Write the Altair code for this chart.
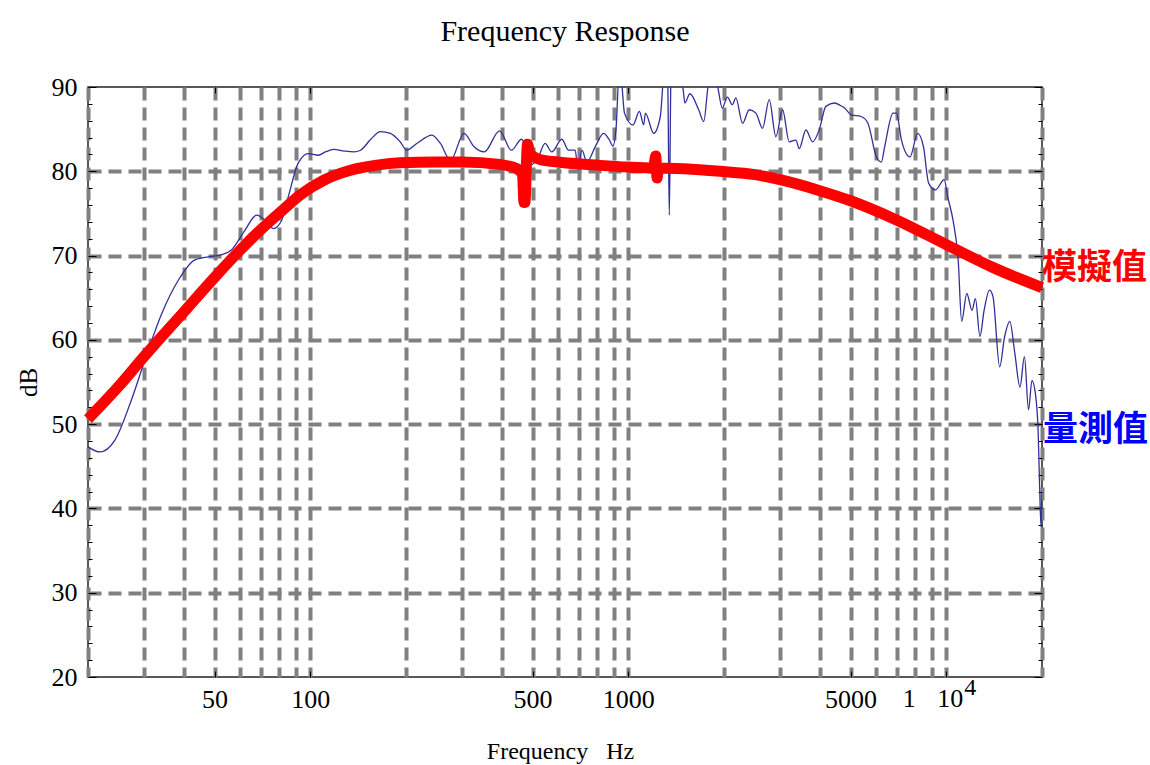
import altair as alt
import pandas as pd

# ---------------- data ----------------
blue_freq = [20, 21.8, 24.3, 27.4, 30.2, 34.1, 38.5, 43.4, 49.0, 52.7, 56.6, 62.3, 67.8, 72.1,
             76.5, 81.3, 85.3, 91.7, 98.6, 106, 111.6, 118.6, 128, 137.1, 143.9, 155, 166,
             178.6, 191.7, 201.2, 216.3, 241.4, 256.6, 276.1, 304.4, 327.5, 352.5, 393.8,
             429, 461.8, 497, 521.6, 547.5, 575, 618, 649, 681, 694, 715, 741, 787, 836,
             870, 895, 915, 936, 950, 973, 1035, 1084, 1118, 1132, 1202, 1261, 1300, 1330,
             1346, 1362, 1400, 1489, 1507, 1562, 1665, 1727, 1791, 1850, 1903, 1975, 2049,
             2126, 2179, 2288, 2401, 2520, 2644, 2775, 2912, 3056, 3207, 3366, 3448, 3619,
             3798, 3985, 4182, 4450, 4650, 4788, 5025, 5400, 5670, 6030, 6250, 6400, 6800,
             6970, 7230, 7690, 8130, 8480, 8800, 9250, 9850, 10100, 10500, 10900, 11180,
             11600, 12050, 12350, 12760, 13150, 13680, 14030, 14720, 15260, 15840, 16430,
             17050, 17610, 18140, 18600, 19070, 19460, 19660, 19860, 20000]
blue_db = [47.3, 46.7, 48.1, 52.9, 57.6, 63.1, 67.1, 69.5, 69.9, 70.1, 70.7, 73.0, 74.8, 74.2,
           73.2, 74.2, 77.0, 81.0, 82.1, 81.9, 82.3, 82.6, 82.4, 82.3, 82.5, 83.8, 84.7,
           84.5, 83.5, 82.5, 83.3, 84.3, 83.3, 81.3, 84.5, 82.9, 82.3, 84.8,
           82.5, 83.8, 80.8, 81.7, 83.3, 82.3, 83.8, 82.5, 82.5, 80.2, 82.5, 81.1, 82.9, 84.5,
           83.8, 83.0, 85.0, 91.5, 91.0, 86.9, 85.5, 87.1, 85.5, 86.9, 84.5, 86.5, 92.0, 91.0,
           74.8, 91.0, 93.0, 89.6, 88.1, 89.2, 87.3, 85.9, 90.5, 91.0, 90.3, 87.5, 88.8,
           87.9, 88.7, 85.7, 87.3, 86.9, 85.1, 88.5, 84.1, 87.3, 83.5, 83.7, 82.7, 84.9,
           83.5, 84.9, 87.7, 88.1, 87.8, 87.5, 86.7, 86.5, 85.7, 81.7, 81.1, 82.9, 86.9,
           86.9, 83.7, 81.7, 84.5, 82.9, 78.6, 77.8, 79.0, 77.0, 74.2, 69.5, 62.2,
           65.5, 63.5, 64.9, 60.4, 63.5, 65.9, 65.1, 56.8, 60.4, 62.2, 58.4,
           54.4, 58.0, 51.7, 55.2, 53.6, 48.9, 42.6, 37.8, 41.8]

red_freq = [20, 25, 30, 40, 50, 60, 70, 83, 93, 111, 133, 160, 191, 250, 300, 395, 447, 465,
            470, 473, 482, 490, 505, 528, 600, 815, 1000, 1200, 1220, 1232, 1245, 1500, 1942,
            2500, 3000, 4000, 5000, 7000, 10000, 14000, 20000]
red_db = [50.6, 54.5, 58.0, 63.3, 67.4, 70.6, 73.1, 75.6, 77.2, 79.0, 80.1, 80.7, 81.0, 81.1,
          81.1, 80.8, 80.3, 79.6, 76.3, 76.3, 83.2, 82.2, 81.7, 81.4, 81.1, 80.7, 80.5, 80.4,
          81.8, 79.2, 80.4, 80.3, 80.0, 79.6, 79.0, 77.7, 76.5, 74.2, 71.3, 68.6, 66.2]

grid_x = [20, 30, 40, 50, 60, 70, 80, 90, 100, 200, 300, 400, 500, 600, 700, 800, 900,
          1000, 2000, 3000, 4000, 5000, 6000, 7000, 8000, 9000, 10000, 20000]
label_x = [50, 100, 500, 1000, 5000, 10000]
major_y = [20, 30, 40, 50, 60, 70, 80, 90]
minor_y = [v for v in range(22, 90, 2) if v % 10 != 0]

sim_label = "模擬值"
meas_label = "量測值"
sim_label_db = 68.5
meas_label_db = 49.3

# ---------------- chart ----------------
W, H = 954, 590
FONT = "Liberation Serif"
CJK = "Noto Sans CJK TC"

blue_df = pd.DataFrame({"f": blue_freq, "db": blue_db})
red_df = pd.DataFrame({"f": red_freq, "db": red_db})

xs = alt.Scale(type="log", domain=[20, 20000], nice=False)
ys = alt.Scale(domain=[20, 90], nice=False, zero=False)

GRID = dict(grid=True, gridDash=[13, 7], gridColor="#808080", gridWidth=4)

main_x = alt.Axis(
    values=grid_x, orient="bottom", ticks=False, tickSize=0, domain=False,
    labelExpr="indexof([50,100,500,1000,5000], datum.value) >= 0 ? toString(datum.value) : ''",
    labelFont=FONT, labelFontSize=26, labelColor="black", labelPadding=9,
    labelOverlap=False, labelFlush=False,
    title="Frequency\u00a0\u00a0\u00a0Hz", titleFont=FONT, titleFontSize=24,
    titleFontWeight="normal", titleColor="black", titleX=472, titleY=74,
    titleBaseline="middle", **GRID)
main_y = alt.Axis(
    values=major_y, orient="left", ticks=False, tickSize=0, domain=False,
    labelFont=FONT, labelFontSize=26, labelColor="black", labelPadding=11,
    title="dB", titleFont=FONT, titleFontSize=25, titleFontWeight="normal",
    titleColor="black", titleX=-60, titleY=H / 2, titleAlign="center",
    titleBaseline="middle", titleAngle=-90,
    gridOpacity={"condition": {"test": "datum.value == 90 || datum.value == 20", "value": 0},
                 "value": 1},
    **GRID)


def tick_axis(orient, values, size):
    return alt.Axis(values=values, orient=orient, ticks=True, tickSize=size, tickColor="black",
                    tickWidth=1, offset=-size, labels=False, domain=False, grid=False, title=None)


blue = alt.Chart(blue_df).mark_line(color="#30309a", strokeWidth=1.3, clip=True,
                                    interpolate="monotone").encode(
    x=alt.X("f:Q", scale=xs, axis=main_x),
    y=alt.Y("db:Q", scale=ys, axis=main_y),
)

red = alt.Chart(red_df).mark_line(color="#ff0000", strokeWidth=11, strokeJoin="bevel",
                                  interpolate="monotone").encode(
    x=alt.X("f:Q", scale=xs, axis=tick_axis("bottom", label_x, 6)),
    y=alt.Y("db:Q", scale=ys, axis=tick_axis("left", major_y, 8)),
)

ghost1 = alt.Chart(blue_df).mark_point(opacity=0).encode(
    x=alt.X("f:Q", scale=xs, axis=tick_axis("top", label_x, 6)),
    y=alt.Y("db:Q", scale=ys, axis=tick_axis("left", minor_y, 4)),
)
ghost2 = alt.Chart(blue_df).mark_point(opacity=0).encode(
    x=alt.X("f:Q", scale=xs, axis=None),
    y=alt.Y("db:Q", scale=ys, axis=tick_axis("right", major_y, 8)),
)
ghost3 = alt.Chart(blue_df).mark_point(opacity=0).encode(
    x=alt.X("f:Q", scale=xs, axis=None),
    y=alt.Y("db:Q", scale=ys, axis=tick_axis("right", minor_y, 4)),
)

# "1 ×10^4" style label at 10^4 (the × is missing in the reference)
lab_one = alt.Chart().mark_text(text="1", font=FONT, fontSize=26, baseline="top",
                                align="center", dx=-37, color="black").encode(
    x=alt.XDatum(10000, type="quantitative", scale=xs, axis=None),
    y=alt.value(H + 9))
lab_ten = alt.Chart().mark_text(text="10", font=FONT, fontSize=26, baseline="top",
                                align="center", dx=4, color="black").encode(
    x=alt.XDatum(10000, type="quantitative", scale=xs, axis=None),
    y=alt.value(H + 9))
lab_exp = alt.Chart().mark_text(text="4", font=FONT, fontSize=24, baseline="top",
                                align="center", dx=24, color="black").encode(
    x=alt.XDatum(10000, type="quantitative", scale=xs, axis=None),
    y=alt.value(H - 1))

sim_text = alt.Chart().mark_text(text=sim_label, font=CJK, fontSize=35, fontWeight="bold",
                                 color="#ff0000", align="left", baseline="middle").encode(
    x=alt.value(W),
    y=alt.YDatum(sim_label_db, type="quantitative", scale=ys, axis=None))
meas_text = alt.Chart().mark_text(text=meas_label, font=CJK, fontSize=35, fontWeight="bold",
                                  color="#0000ff", align="left", baseline="middle").encode(
    x=alt.value(W + 1),
    y=alt.YDatum(meas_label_db, type="quantitative", scale=ys, axis=None))

chart = alt.layer(
    blue, red, ghost1, ghost2, ghost3, lab_one, lab_ten, lab_exp, sim_text, meas_text
).resolve_axis(x="independent", y="independent").properties(
    width=W, height=H,
    title=alt.TitleParams("Frequency Response", font=FONT, fontSize=30, fontWeight="normal",
                          color="black", anchor="middle", offset=12),
    autosize=alt.AutoSizeParams(type="none"),
    padding={"left": 88, "top": 87, "right": 108, "bottom": 88},
    background="white",
).configure_view(stroke="#222222", strokeWidth=1.5)

chart.save("out.html", embed_options={"renderer": "svg", "actions": False})
